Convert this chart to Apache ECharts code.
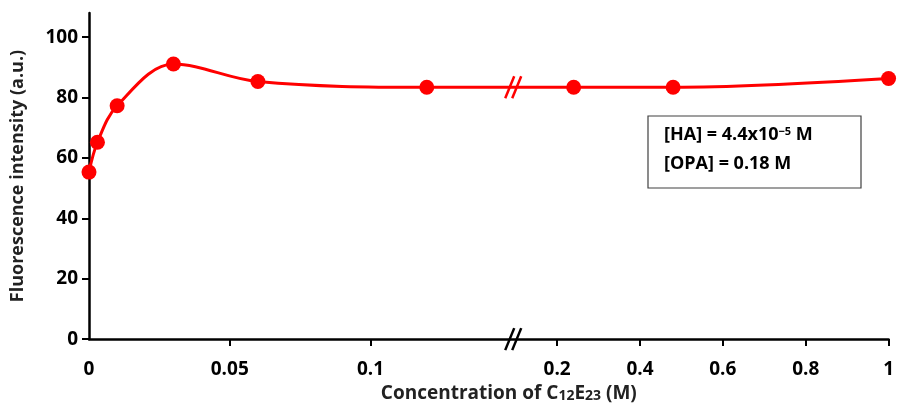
<!DOCTYPE html>
<html>
<head>
<meta charset="utf-8">
<script src="https://cdn.jsdelivr.net/npm/echarts@6/dist/echarts.min.js"></script>
<style>
  html, body { margin: 0; padding: 0; background: #fff; }
  #chart { width: 897px; height: 408px; }
</style>
</head>
<body>
<div id="chart"></div>
<script>
// C12E23 concentration (M) vs fluorescence intensity (a.u.)
const concentrations = [0, 0.003, 0.01, 0.03, 0.06, 0.12, 0.24, 0.48, 1.0];
const intensities = [55.3, 65.2, 77.3, 91.1, 85.3, 83.4, 83.4, 83.4, 86.3];
const xTickValues = [0, 0.05, 0.1, 0.2, 0.4, 0.6, 0.8, 1];
const xTickLabels = ['0', '0.05', '0.1', '0.2', '0.4', '0.6', '0.8', '1'];
const yTickValues = [0, 20, 40, 60, 80, 100];

// broken x axis: 0..0.15 at full scale, after the break 0.2..1 compressed
const BREAK_AT = 0.15;
const RIGHT_FROM = 0.2;
const RIGHT_OFFSET = 0.0163;
const RIGHT_SCALE = 0.1472;
const toAxis = c => c <= BREAK_AT ? c : BREAK_AT + RIGHT_OFFSET + (c - RIGHT_FROM) * RIGHT_SCALE;

const FONT = 'Open Sans';
const RED = '#ff0000';

const chart = echarts.init(document.getElementById('chart'));

const option = {
  animation: false,
  grid: { left: 89, right: 7, top: 13, bottom: 67 },
  xAxis: {
    type: 'value',
    min: 0,
    max: toAxis(1),
    splitLine: { show: false },
    axisLine: { onZero: false, lineStyle: { color: '#000', width: 2.5 } },
    axisTick: {
      show: true,
      customValues: xTickValues.slice(1).map(toAxis),
      length: 7,
      lineStyle: { color: '#000', width: 2 }
    },
    axisLabel: {
      customValues: xTickValues.map(toAxis),
      margin: 21,
      fontFamily: FONT,
      fontWeight: 'bold',
      fontSize: 19,
      color: '#000',
      formatter: function (v) {
        for (let i = 0; i < xTickValues.length; i++) {
          if (Math.abs(toAxis(xTickValues[i]) - v) < 1e-6) return xTickLabels[i];
        }
        return '';
      }
    },
    name: 'Concentration of C{s|12}E{s|23} (M)',
    nameLocation: 'middle',
    nameGap: 42,
    nameTextStyle: {
      fontFamily: FONT,
      fontWeight: 'bold',
      fontSize: 19,
      color: '#222',
      padding: [0, 0, 0, 40],
      rich: {
        s: { fontFamily: FONT, fontWeight: 'bold', fontSize: 14, color: '#222', verticalAlign: 'bottom' }
      }
    }
  },
  yAxis: {
    type: 'value',
    min: 0,
    max: 108,
    splitLine: { show: false },
    axisLine: { show: true, lineStyle: { color: '#000', width: 2.5 } },
    axisTick: {
      show: true,
      customValues: yTickValues,
      length: 7,
      lineStyle: { color: '#000', width: 2 }
    },
    axisLabel: {
      customValues: yTickValues,
      margin: 11,
      fontFamily: FONT,
      fontWeight: 'bold',
      fontSize: 19,
      color: '#000'
    },
    name: 'Fluorescence intensity (a.u.)',
    nameLocation: 'middle',
    nameGap: 62,
    nameTextStyle: { fontFamily: FONT, fontWeight: 'bold', fontSize: 18, color: '#222' }
  },
  series: [
    {
      type: 'line',
      smooth: 0.35,
      data: concentrations.map((c, i) => [toAxis(c), intensities[i]]),
      symbol: 'circle',
      symbolSize: 15,
      lineStyle: { color: RED, width: 3 },
      itemStyle: { color: RED }
    }
  ]
};

chart.setOption(option);

// "//" break marks on the axis and on the curve
const breakPos = toAxis(BREAK_AT);
const axisPt = chart.convertToPixel({ gridIndex: 0 }, [breakPos, 0]);
const linePt = chart.convertToPixel({ gridIndex: 0 }, [breakPos, intensities[5]]);

function breakMark(pt, color) {
  const cx = pt[0] + 2, cy = pt[1];
  return {
    type: 'group',
    children: [
      { type: 'rect', shape: { x: cx - 5, y: cy - 4, width: 10, height: 8 }, style: { fill: '#fff' } },
      { type: 'line', shape: { x1: cx - 8, y1: cy + 11, x2: cx + 1, y2: cy - 11 }, style: { stroke: color, lineWidth: 2.5 } },
      { type: 'line', shape: { x1: cx - 1, y1: cy + 11, x2: cx + 8, y2: cy - 11 }, style: { stroke: color, lineWidth: 2.5 } }
    ]
  };
}

chart.setOption({
  graphic: [
    breakMark(axisPt, '#000'),
    breakMark(linePt, RED),
    {
      type: 'rect',
      shape: { x: 648, y: 116, width: 213, height: 72 },
      style: { fill: '#fff', stroke: '#404040', lineWidth: 1.2 }
    },
    {
      type: 'text',
      left: 664,
      top: 126,
      style: {
        text: '[HA] = 4.4x10{sup|−5} M',
        fontFamily: FONT,
        fontWeight: 'bold',
        fontSize: 18,
        fill: '#000',
        rich: {
          sup: { fontFamily: FONT, fontWeight: 'bold', fontSize: 11, fill: '#000', verticalAlign: 'top' }
        }
      }
    },
    {
      type: 'text',
      left: 664,
      top: 155,
      style: { text: '[OPA] = 0.18 M', fontFamily: FONT, fontWeight: 'bold', fontSize: 18, fill: '#000' }
    }
  ]
});
</script>
</body>
</html>
